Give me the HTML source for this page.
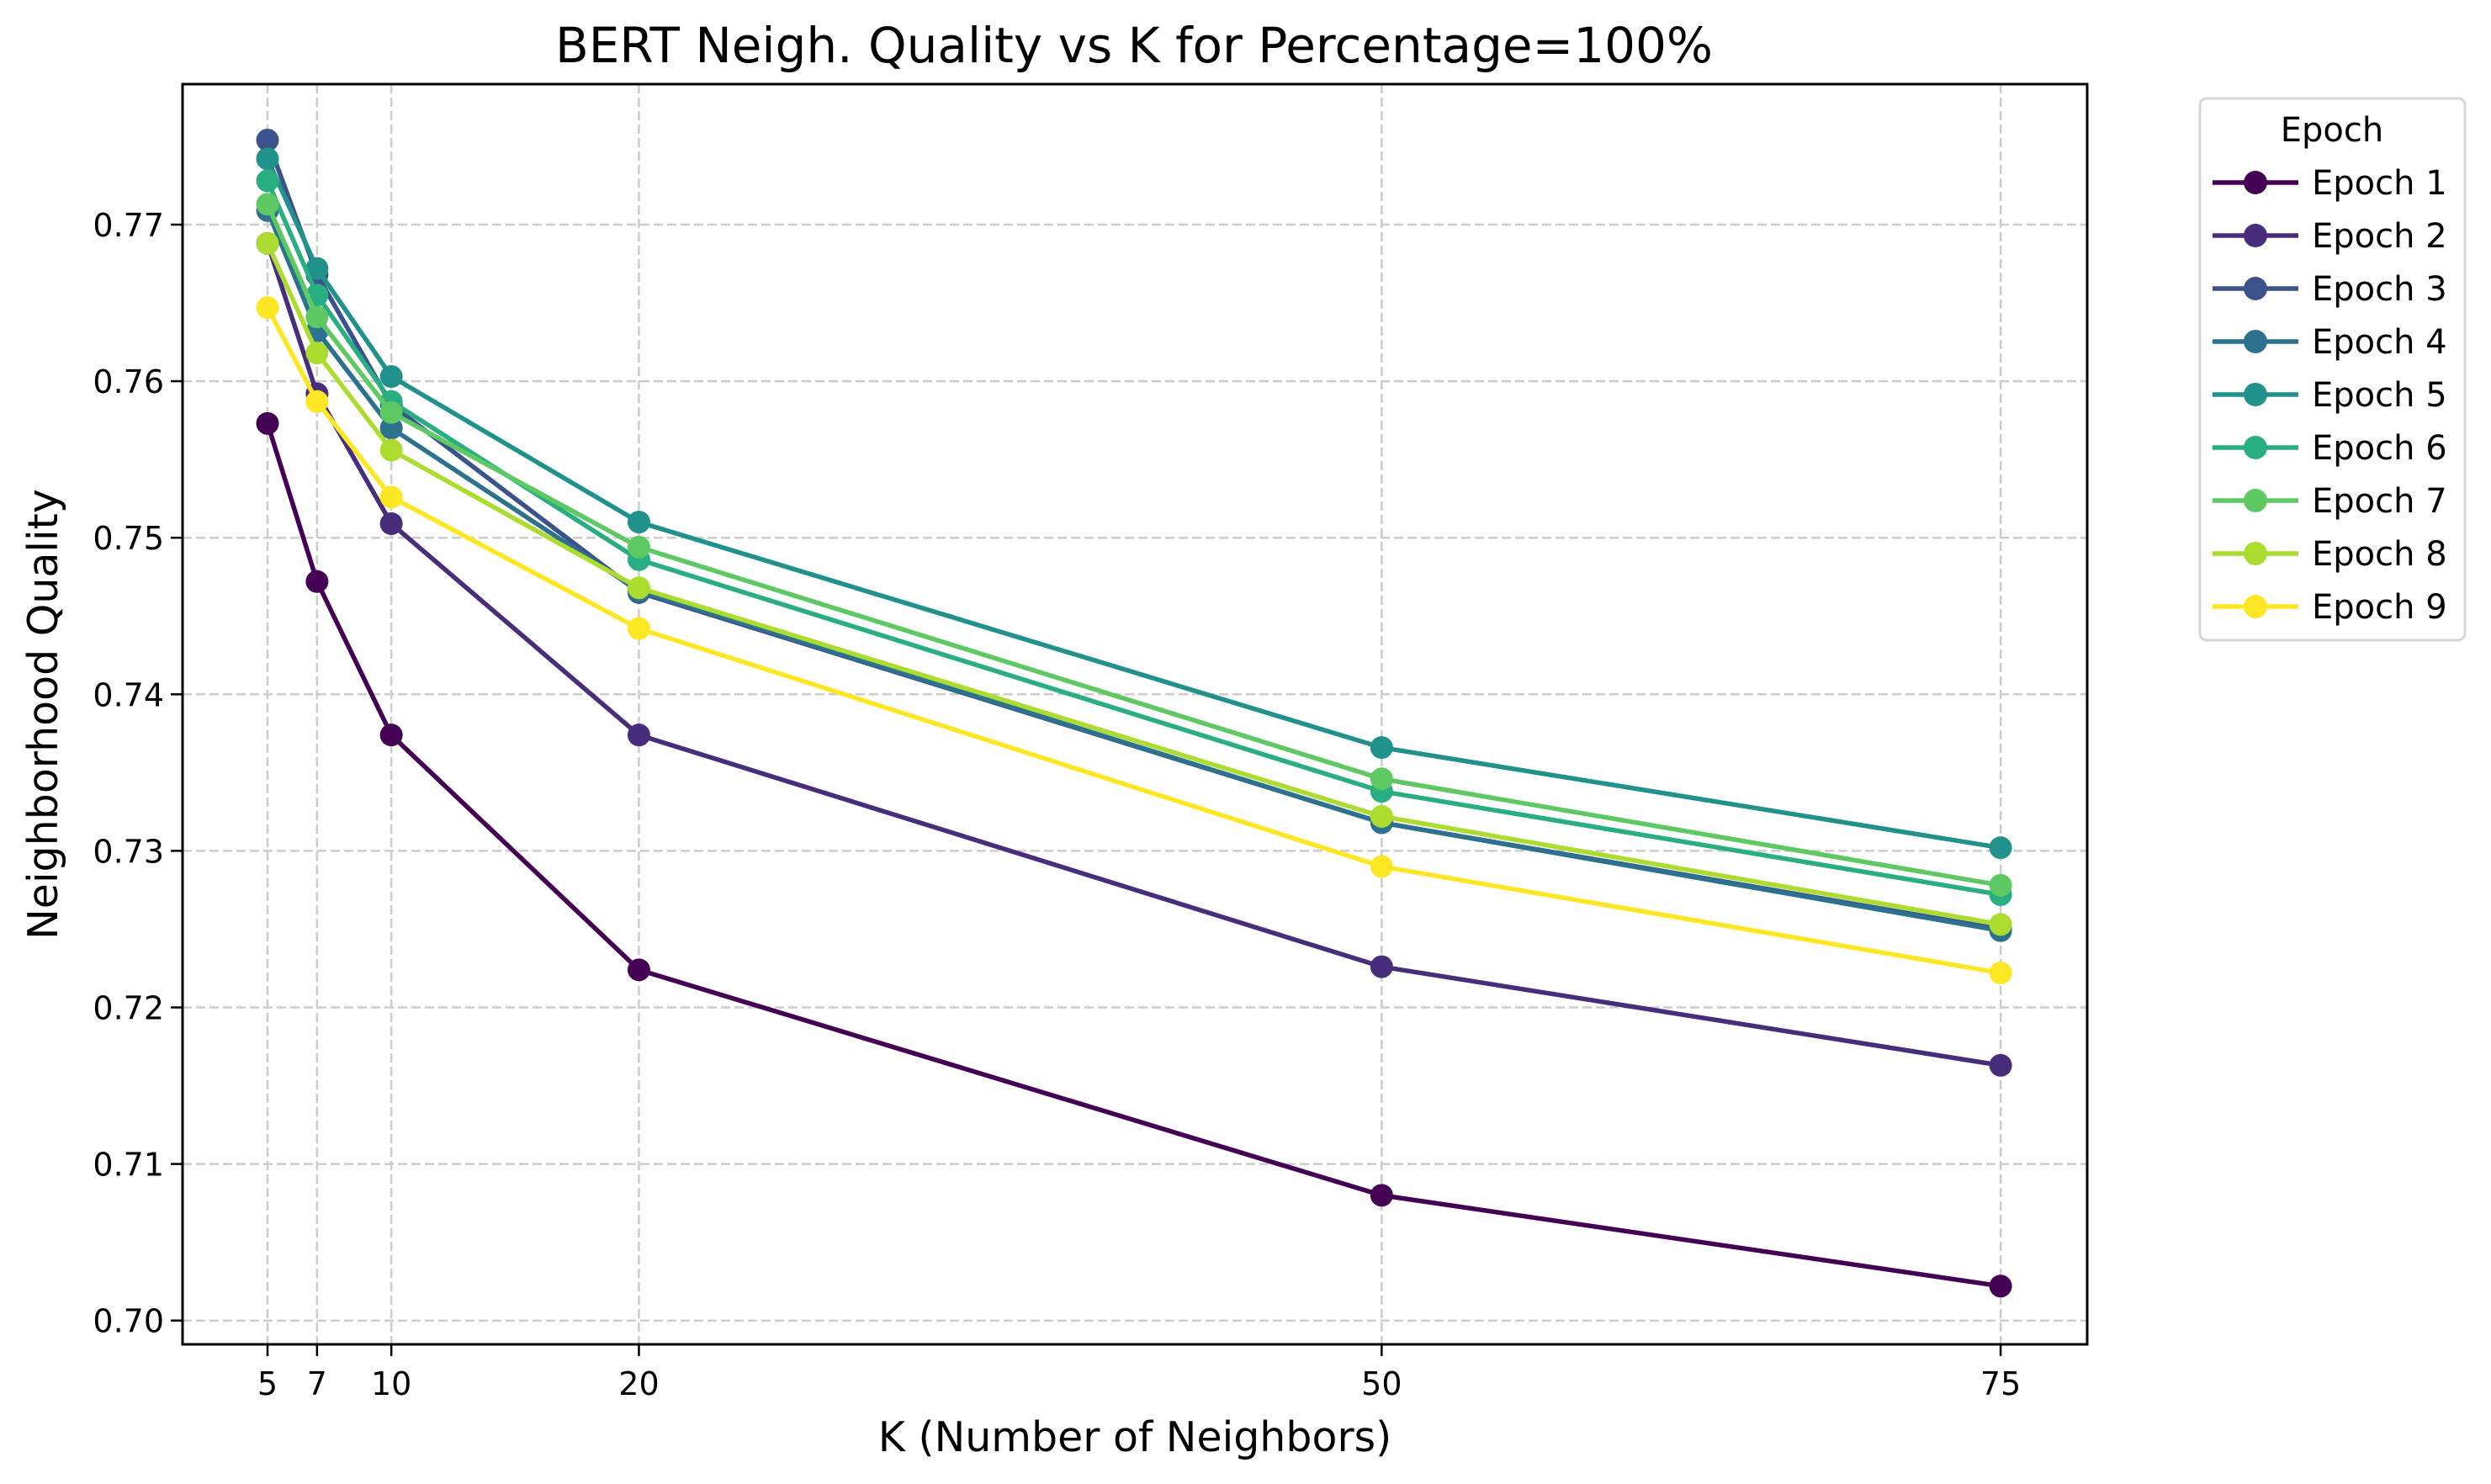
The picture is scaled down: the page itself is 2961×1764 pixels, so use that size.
<!DOCTYPE html>
<html><head><meta charset="utf-8">
<style>
html,body{margin:0;padding:0;background:#fff;}
svg{display:block;font-family:"DejaVu Sans","Liberation Sans",sans-serif;}
</style></head>
<body>
<svg id="chart" width="2961" height="1764" viewBox="0 0 2961 1764" xmlns="http://www.w3.org/2000/svg">
<rect width="2961" height="1764" fill="#fff"/>
<text x="1348" y="74" font-size="58" text-anchor="middle">BERT Neigh. Quality vs K for Percentage=100%</text>
<g id="grid"></g>
<g id="series"></g>
<rect x="217" y="100" width="2264" height="1498" fill="none" stroke="#000" stroke-width="3"/>
<g id="axes"></g>
<text x="1349" y="1725" font-size="49" text-anchor="middle">K (Number of Neighbors)</text>
<text transform="translate(68,849) rotate(-90)" font-size="49" text-anchor="middle">Neighborhood Quality</text>
<g id="legend">
<rect x="2615" y="117" width="315" height="644" rx="8" fill="#fff" stroke="#d6d6d6" stroke-width="3"/>
<text x="2772" y="168" font-size="40" text-anchor="middle">Epoch</text>
</g>
</svg>
<script>
const kValues = [5, 7, 10, 20, 50, 75];
const xTicks = [5, 7, 10, 20, 50, 75];
const yTicks = [0.70, 0.71, 0.72, 0.73, 0.74, 0.75, 0.76, 0.77];
const seriesNames = ["Epoch 1","Epoch 2","Epoch 3","Epoch 4","Epoch 5","Epoch 6","Epoch 7","Epoch 8","Epoch 9"];
const colors = ["#440154","#472d7b","#3b528b","#2c728e","#21918c","#28ae80","#5ec962","#addc30","#fde725"];
const epoch1 = [0.7573, 0.7472, 0.7374, 0.7224, 0.7080, 0.7022];
const epoch2 = [0.7688, 0.7592, 0.7509, 0.7374, 0.7226, 0.7163];
const epoch3 = [0.7754, 0.7668, 0.7585, 0.7465, 0.7318, 0.7250];
const epoch4 = [0.7709, 0.7632, 0.7570, 0.7466, 0.7318, 0.7249];
const epoch5 = [0.7742, 0.7672, 0.7603, 0.7510, 0.7366, 0.7302];
const epoch6 = [0.7728, 0.7655, 0.7587, 0.7486, 0.7338, 0.7272];
const epoch7 = [0.7713, 0.7641, 0.7580, 0.7494, 0.7346, 0.7278];
const epoch8 = [0.7688, 0.7618, 0.7556, 0.7468, 0.7322, 0.7253];
const epoch9 = [0.7647, 0.7587, 0.7526, 0.7442, 0.7290, 0.7222];
const allSeries = [epoch1,epoch2,epoch3,epoch4,epoch5,epoch6,epoch7,epoch8,epoch9];

const NS="http://www.w3.org/2000/svg";
const X = k => 318 + (k-5)*29.43;
const Y = v => 267 + (0.77 - v)*18610;
function mk(tag, attrs, parent){const e=document.createElementNS(NS,tag);for(const k in attrs)e.setAttribute(k,attrs[k]);parent.appendChild(e);return e;}
const grid=document.getElementById('grid'), axes=document.getElementById('axes'), ser=document.getElementById('series'), leg=document.getElementById('legend');
xTicks.forEach(t=>{
  const g=mk('line',{x1:X(t),x2:X(t),y1:100,y2:1598,stroke:'#cccccc','stroke-width':2.5,'stroke-dasharray':'11,5'},grid);
  
  
  const tk=mk('line',{x1:X(t),x2:X(t),y1:1598,y2:1612,stroke:'#000','stroke-width':2.5},axes);
  
  
  const tl=mk('text',{x:X(t),y:1658,'font-size':38,'text-anchor':'middle'},axes);
  tl.textContent=t;
  
  
});
yTicks.forEach(t=>{
  const g=mk('line',{x1:217,x2:2481,y1:Y(t),y2:Y(t),stroke:'#cccccc','stroke-width':2.5,'stroke-dasharray':'11,5'},grid);
  
  
  const tk=mk('line',{x1:203,x2:217,y1:Y(t),y2:Y(t),stroke:'#000','stroke-width':2.5},axes);
  
  
  const tl=mk('text',{x:195,y:Y(t)+14,'font-size':38,'text-anchor':'end'},axes);
  tl.textContent=t.toFixed(2);
  
  
});
allSeries.forEach((vals,i)=>{
  const g=mk('g',{},ser);
  
  
  const pts=vals.map((v,j)=>X(kValues[j])+','+Y(v)).join(' ');
  const pl=mk('polyline',{points:pts,fill:'none',stroke:colors[i],'stroke-width':5.5,'stroke-linejoin':'round'},g);
  
  
  vals.forEach((v,j)=>{
    const c=mk('circle',{cx:X(kValues[j]),cy:Y(v),r:13.5,fill:colors[i]},g);
    
    
  });
  const ly=217+i*63;
  const le=mk('g',{},leg);
  
  
  mk('line',{x1:2630,x2:2732,y1:ly,y2:ly,stroke:colors[i],'stroke-width':5.5},le);
  mk('circle',{cx:2681,cy:ly,r:14,fill:colors[i]},le);
  const t=mk('text',{x:2748,y:ly+14,'font-size':40},le);
  t.textContent=seriesNames[i];
});
</script>
</body></html>
